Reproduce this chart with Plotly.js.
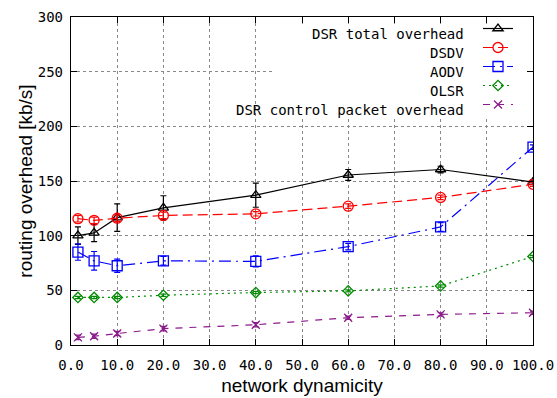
<!DOCTYPE html>
<html>
<head>
<meta charset="utf-8">
<script src="https://cdn.plot.ly/plotly-3.0.1.min.js"></script>
<style>html,body{margin:0;padding:0;background:#fff;}#chart{width:557px;height:398px;}</style>
</head>
<body>
<div id="chart"></div>
<script>
const xVals = [1.5, 5, 10, 20, 40, 60, 80, 100];
const seriesNames = ["DSR total overhead", "DSDV", "AODV", "OLSR", "DSR control packet overhead"];
const dsrTotal = [100, 102.5, 116.5, 125.5, 137, 155.5, 160.5, 149];
const dsrTotalErr = [8, 8, 12.5, 11, 11, 5, 3, 2];
const dsdv = [115.5, 114, 116, 118.5, 120, 127, 135, 147];
const dsdvErr = [3, 3, 3, 3, 2, 2, 2, 2];
const aodv = [85, 77, 72.5, 77, 76.5, 90, 108, 181];
const aodvErr = [7.5, 8.5, 6, 4, 5, 3, 4, 2];
const olsr = [43.5, 43.5, 43.5, 45.5, 48, 49.5, 54, 81];
const olsrErr = [1, 1, 1, 1, 1, 1, 1, 1];
const dsrCtrl = [7, 8, 10.5, 15, 18.5, 25, 28, 29.5];
const dsrCtrlErr = [2, 2, 2, 2, 2, 1.5, 1.5, 1.5];
const yTickVals = [0, 50, 100, 150, 200, 250, 300];
const xTickVals = [0, 10, 20, 30, 40, 50, 60, 70, 80, 90, 100];

const colors = ["#000000", "#ff0000", "#0000ff", "#008a00", "#8b1a8b"];
const symbols = ["triangle-up-open", "circle-open", "square-open", "diamond-open", "x-thin-open"];
const sizes = [9, 10, 10, 8, 8];
const dashes = ["solid", "10px,5px", "12px,5px,2px,5px", "2px,4px", "7px,7px"];
const ys = [dsrTotal, dsdv, aodv, olsr, dsrCtrl];
const errs = [dsrTotalErr, dsdvErr, aodvErr, olsrErr, dsrCtrlErr];

const traces = ys.map((y, i) => ({
  x: xVals, y: y, type: "scatter", mode: "lines+markers", name: "",
  line: {color: colors[i], width: 1.2, dash: dashes[i]},
  marker: {symbol: symbols[i], size: sizes[i], color: colors[i], line: {color: colors[i], width: 1.3}},
  error_y: {type: "data", array: errs[i], visible: true, color: colors[i], thickness: 1.2, width: 3}
}));

const monoFont = {family: "DejaVu Sans Mono", size: 14, color: "#000"};
const L = 71, R = 533, T = 17, B = 345;
const rowH = 19;
const firstRow = 34;
const annotations = seriesNames.map((n, i) => ({
  xref: "paper", yref: "paper",
  x: (466 - L) / (R - L), xanchor: "right",
  y: (B - (firstRow + rowH * i)) / (B - T), yanchor: "middle",
  text: n, showarrow: false, font: monoFont
}));

const axisCommon = {
  showline: true, linecolor: "#000", linewidth: 1.2, mirror: "ticks",
  ticks: "inside", ticklen: 6, tickcolor: "#000", tickwidth: 1,
  showgrid: true, gridcolor: "#888", griddash: "dot", gridwidth: 1,
  zeroline: false, tickfont: monoFont
};

const layout = {
  width: 557, height: 398,
  margin: {l: L, r: 557 - R, t: T, b: 398 - B},
  paper_bgcolor: "#fff", plot_bgcolor: "#fff",
  showlegend: true,
  legend: {x: (478 - L) / (R - L), xanchor: "left", y: (B - 14) / (B - T), yanchor: "top",
           bgcolor: "rgba(0,0,0,0)", borderwidth: 0, font: {size: 10}, itemwidth: 30},
  xaxis: Object.assign({}, axisCommon, {range: [0, 100], tickvals: xTickVals, tickformat: ".1f",
    ticklabelstandoff: 7,
    title: {text: "network dynamicity", font: {family: "Liberation Sans", size: 19, color: "#000"}, standoff: 6}}),
  yaxis: Object.assign({}, axisCommon, {range: [0, 300], tickvals: yTickVals,
    ticklabelstandoff: 4,
    title: {text: "routing overhead [kb/s]", font: {family: "Liberation Sans", size: 19, color: "#000"}, standoff: 0}}),
  shapes: [{type: "rect", xref: "paper", yref: "paper", layer: "above",
    x0: (274 - L) / (R - L), x1: (526 - L) / (R - L), y0: (B - 118) / (B - T), y1: (B - 24) / (B - T),
    fillcolor: "#fff", line: {width: 0}}],
  annotations: annotations
};

Plotly.newPlot("chart", traces, layout, {displayModeBar: false, staticPlot: true});
</script>
</body>
</html>
